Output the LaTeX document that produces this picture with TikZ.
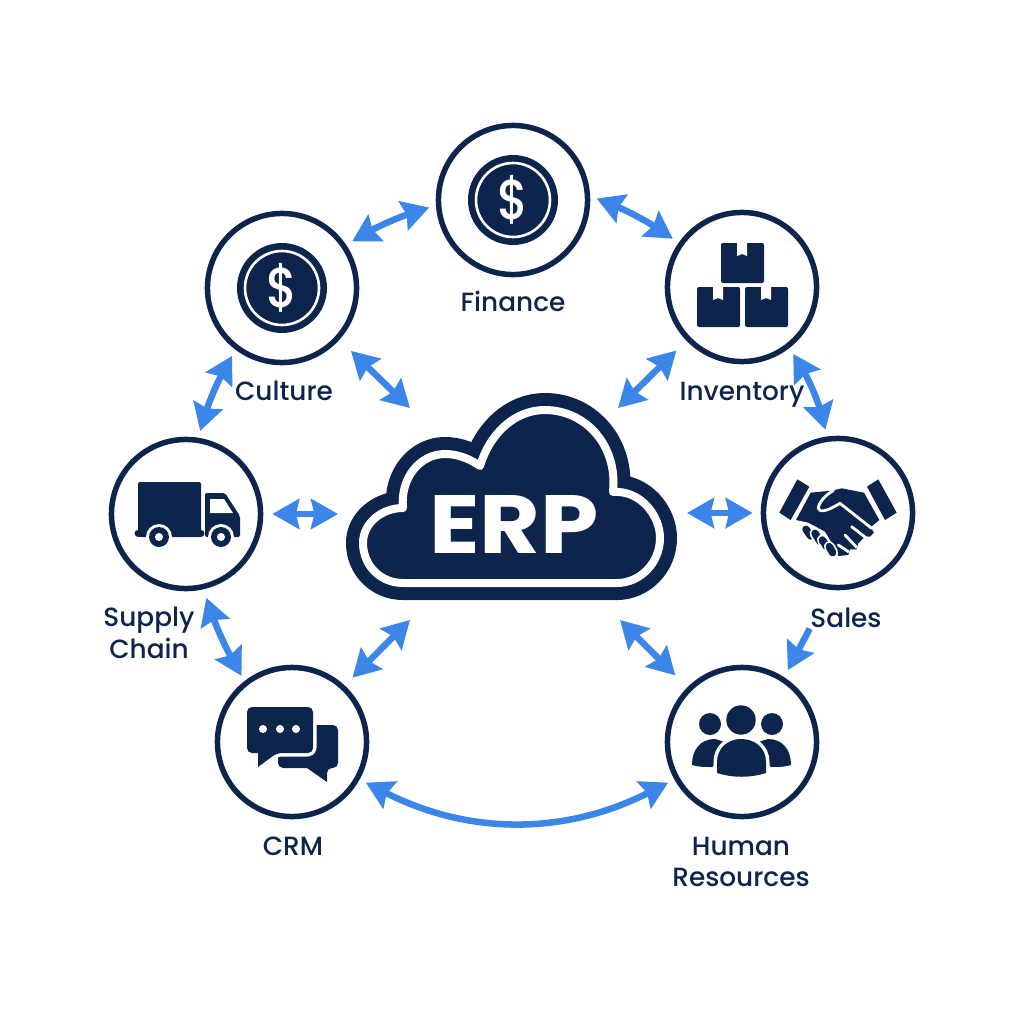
\documentclass[tikz,border=0pt]{standalone}
\usepackage{fontspec}
\setmainfont{Poppins Medium}
\newfontfamily\erpfont{Poppins}
\usepackage{tikz}
\usetikzlibrary{arrows.meta,shapes.geometric}
\definecolor{erpnavy}{HTML}{0D244D}
\definecolor{erpblue}{HTML}{3B86E8}
\tikzset{
  ring/.style={circle,draw=erpnavy,line width=.055cm,minimum size=1.49cm,inner sep=0pt},
  lab/.style={text=erpnavy,inner sep=0pt,align=center,font=\fontsize{7.5}{9}\selectfont},
  dollar/.style={text=white,inner sep=0pt,xscale=.85,font=\fontsize{16}{16}\selectfont},
  link/.style={draw=erpblue,line width=.065cm,<->,shorten <=.07cm,shorten >=.07cm},
  halo/.style={preaction={draw=white,line width=.07cm,line join=round},fill=erpnavy},
  gapline/.style={draw=white,line width=.028cm,line cap=round,line join=round},
  finger/.style={draw=erpnavy,line width=.075cm,line cap=round,preaction={draw=white,line width=.11cm,line cap=round}},
}
\begin{document}
\begin{tikzpicture}[x=.01cm,y=-.01cm,>={Stealth[length=.27cm,width=.3cm,inset=.035cm]}]
\useasboundingbox (0,0) rectangle (1024,1024);
\fill[white] (0,0) rectangle (1024,1024);
\node[ring] (fin) at (513,200) {};
\node[ring] (cul) at (282,288) {};
\node[ring] (inv) at (742,287) {};
\node[ring] (sup) at (186,514) {};
\node[ring] (sal) at (838,513) {};
\node[ring] (crm) at (292,742) {};
\node[ring] (hr) at (742,742) {};
\node[lab] (finlab) at (513,301) {Finance};
\node[lab] (cullab) at (284,391) {Culture};
\node[lab] (invlab) at (742,395) {Inventory};
\node[lab] (suplab) at (149,633) {Supply\\Chain};
\node[lab] (sallab) at (846,618) {Sales};
\node[lab] (crmlab) at (293,846) {CRM};
\node[lab] (hrlab) at (741,862) {Human\\Resources};
% cloud
\path[draw=erpnavy,line width=.34cm,line join=round,fill=erpnavy] (403,583) .. controls (380,583) and (363,565) .. (363,543)
  .. controls (363,523) and (382,508) .. (403,508)
  .. controls (400,478) and (420,454) .. (445,454)
  .. controls (458,454) and (470,459) .. (480,466)
  .. controls (490,433) and (515,410) .. (545,410)
  .. controls (585,410) and (618,445) .. (613,492)
  .. controls (640,490) and (660,515) .. (660,538)
  .. controls (660,563) and (640,583) .. (617,583) -- cycle;
\path[draw=white,line width=.08cm,line join=round] (403,583) .. controls (380,583) and (363,565) .. (363,543)
  .. controls (363,523) and (382,508) .. (403,508)
  .. controls (400,478) and (420,454) .. (445,454)
  .. controls (458,454) and (470,459) .. (480,466)
  .. controls (490,433) and (515,410) .. (545,410)
  .. controls (585,410) and (618,445) .. (613,492)
  .. controls (640,490) and (660,515) .. (660,538)
  .. controls (660,563) and (640,583) .. (617,583) -- cycle;
\node[text=white,inner sep=0pt,xscale=1.13,font=\fontsize{23.5}{24}\erpfont\bfseries] (erp) at (514,524) {ERP};
\coordinate (erpnw) at (410,408);
\coordinate (erpne) at (618,408);
\coordinate (erpw) at (338,514);
\coordinate (erpe) at (687,513);
\coordinate (erpsw) at (410,620);
\coordinate (erpse) at (620,620);
% arrows
\draw[link] (cul.34) to[bend left=6] (fin.184);
\draw[link] (fin.3) to[bend left=6] (inv.145);
\draw[link] (inv.-52) to[bend left=8] (sal.98);
\draw[link] (cul.-127) to[bend right=6] (sup.81);
\draw[link,shorten <=.09cm,shorten >=.06cm] (sup.-77) to[bend right=5] (crm.128);
\draw[link] (crm.-29) to[bend right=27] (hr.209);
\draw[link,shorten >=0pt,shorten <=.16cm] (cul.-42) -- (erpnw);
\draw[link,shorten >=0pt,shorten <=.14cm] (inv.224) -- (erpne);
\draw[link,shorten >=0pt,shorten <=.09cm] (sup.0) -- (erpw);
\draw[link,shorten >=0pt,shorten <=.08cm] (sal.180) -- (erpe);
\draw[link,shorten >=0pt,shorten <=.11cm] (crm.47) -- (erpsw);
\draw[link,shorten >=0pt,shorten <=.17cm] (hr.135) -- (erpse);
\draw[link,->,shorten <=0pt,shorten >=.08cm] (sallab.south west) -- (hr.57);
% money
\foreach \cx/\cy/\nm in {513/200/findollar,282/288/culdollar}{
  \fill[erpnavy] (\cx,\cy) circle[radius=45];
  \draw[white,line width=.026cm] (\cx,\cy) circle[radius=37];
  \node[dollar] (\nm) at (\cx,\cy) {\$};
}
% boxes
\foreach \bx/\by in {721/243,697/287,745/287}{
  \fill[erpnavy,rounded corners=.02cm] (\bx,\by) rectangle +(43,40);
  \fill[white] (\bx+16,\by) -- (\bx+16,\by+13) -- (\bx+21,\by+11) -- (\bx+26,\by+13) -- (\bx+26,\by) -- cycle;
}
% truck
\fill[erpnavy,rounded corners=.02cm] (138,482) rectangle (201,537);
\draw[erpnavy,line width=.07cm,line cap=round] (138,533) -- (201,533);
\fill[erpnavy,rounded corners=.02cm] (205,537) -- (205,493) -- (225,493) -- (240,516) -- (240,537) -- cycle;
\fill[white] (210,499) -- (224,499) -- (233,513) -- (210,513) -- cycle;
\foreach \wx in {159,221}{
  \fill[white] (\wx,537) circle[radius=13];
  \fill[erpnavy] (\wx,537) circle[radius=10];
  \fill[white] (\wx,537) circle[radius=4];
}
% chat
\fill[erpnavy,rounded corners=.05cm] (300,725) -- (338,725) -- (338,768) -- (327,768) [sharp corners] -- (327,782) -- (307,768) [rounded corners=.05cm] -- (278,768) -- (278,740) -- cycle;
\path[halo,rounded corners=.05cm] (247,730) -- (247,707) -- (313,707) -- (313,753) -- (277,753) [sharp corners] -- (258,767) -- (258,753) [rounded corners=.05cm] -- (247,753) -- cycle;
\foreach \dx in {263,280,296}{
  \fill[white] (\dx,729) circle[radius=4];
}
% people
\fill[erpnavy] (692,765) .. controls (692,750) and (700,739) .. (715,739) -- (735,745) -- (712,767) .. controls (705,767) and (698,767) .. (692,765) -- cycle;
\fill[erpnavy] (791,765) .. controls (791,750) and (783,739) .. (768,739) -- (748,745) -- (771,767) .. controls (778,767) and (785,767) .. (791,765) -- cycle;
\fill[erpnavy] (710,724) circle[radius=11];
\fill[erpnavy] (772,724) circle[radius=11];
\fill[erpnavy] (741,720) circle[radius=14.7];
\path[halo] (717,773) -- (717,762) .. controls (717,748) and (728,739) .. (741,739) .. controls (755,739) and (766,748) .. (766,762) -- (766,773) .. controls (750,778) and (733,778) .. (717,773) -- cycle;
% handshake
\begin{scope}[shift={(770,470)},scale=.3333]
\fill[erpnavy] (82,28) -- (118,50) -- (62,150) -- (28,128) -- cycle;
\fill[erpnavy] (325,28) -- (380,128) -- (345,150) -- (291,50) -- cycle;
\fill[erpnavy] (78,150) -- (122,68) -- (185,62) -- (215,55) -- (282,68) -- (328,150) -- (302,172) -- (312,188) -- (300,200) -- (285,200) -- (265,220) -- (260,238) -- (240,238) -- (235,255) -- (205,258) -- (195,235) -- (165,185) -- (115,158) -- cycle;
\draw[gapline] (190,62) .. controls (165,75) and (145,100) .. (145,115) .. controls (148,128) and (170,125) .. (210,100) -- (305,175);
\draw[gapline] (245,170) -- (290,205);
\draw[gapline] (225,195) -- (260,232);
\draw[gapline] (205,225) -- (235,245);
\path[finger] (108,178) -- (122,198);
\path[finger] (135,190) -- (150,214);
\path[finger] (157,210) -- (170,230);
\path[finger] (178,230) -- (188,248);
\end{scope}
\end{tikzpicture}
\end{document}
